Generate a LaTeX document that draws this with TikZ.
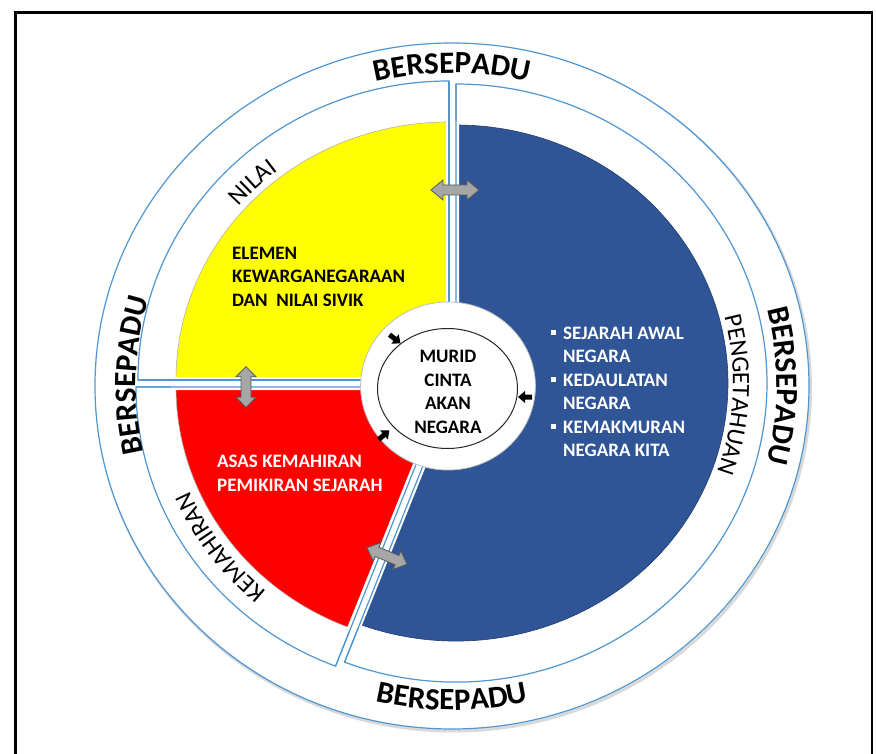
\documentclass[tikz,border=0pt]{standalone}
\usepackage{fontspec}
\setmainfont{Carlito}
\usetikzlibrary{decorations.text,calc}
\definecolor{ringblue}{RGB}{80,150,210}
\definecolor{secblue}{RGB}{47,85,151}
\definecolor{arrgray}{RGB}{166,166,166}
\definecolor{pureyellow}{RGB}{255,255,0}
\newcommand\bsfont{\bfseries\fontsize{31}{31}\selectfont}
\newcommand\lblfont{\fontsize{25}{25}\selectfont}
\newcommand\blsq{\makebox[12pt][l]{\rule[4pt]{5pt}{5pt}}}
\begin{document}
\begin{tikzpicture}[x=1pt,y=1pt,
  ringline/.style={draw=ringblue, line width=1.2pt},
  body/.style={font=\bfseries\fontsize{19}{23.5}\selectfont, inner sep=0pt, align=left},
  curved/.style={decorate, decoration={text along path, text align=center, text={#1}}},
  dblarrow/.pic={\filldraw[fill=arrgray, draw=black!65, line width=0.8pt]
     (-24,0) -- (-12,10) -- (-12,5) -- (12,5) -- (12,10) -- (24,0) -- (12,-10) -- (12,-5) -- (-12,-5) -- (-12,-10) -- cycle;},
  blkarrow/.pic={\fill[black] (-7,-2.5) -- (0,-2.5) -- (0,-6) -- (7,0) -- (0,6) -- (0,2.5) -- (-7,2.5) -- cycle;}
]
\useasboundingbox (0,0) rectangle (876,-754);
\clip (0,0) rectangle (876,-754);
\fill[white] (0,0) rectangle (876,-754);
\draw[black, line width=2.5pt] (15.5,-12.5) rectangle (872,-790);

\coordinate (O) at (452,-386);
\coordinate (Y) at (449,-380);
\coordinate (R) at (447,-387);
\coordinate (B) at (456,-383);
\coordinate (C) at (448,-386);
\coordinate (E) at (447.5,-388.5);

% outer ring
\draw[black!15, line width=3pt] ($(O)+(1.5,-2)$) ellipse[x radius=357, y radius=343];
\draw[ringline, fill=white] (O) ellipse[x radius=357, y radius=343];

% pieces (white ring parts)
\path[ringline, fill=white] (Y) -- ++(90:311 and 299) arc[start angle=90, end angle=180, x radius=311, y radius=299] -- cycle;
\path[ringline, fill=white] (R) -- ++(180:311 and 299) arc[start angle=180, end angle=249, x radius=311, y radius=299] -- cycle;
\path[ringline, fill=white] (B) -- ++(249:311 and 299) arc[start angle=249, end angle=450, x radius=311, y radius=299] -- cycle;

% coloured sectors
\filldraw[fill=pureyellow, draw=black!30, line width=0.6pt] (Y) -- ++(90:273 and 258) arc[start angle=90, end angle=180, x radius=273, y radius=258] -- cycle;
\filldraw[fill=red, draw=black!30, line width=0.6pt] (R) -- ++(180:271 and 258) arc[start angle=180, end angle=249, x radius=271, y radius=258] -- cycle;
\filldraw[fill=secblue, draw=secblue!70!black, line width=0.6pt] (B) -- ++(249:272 and 258) arc[start angle=249, end angle=450, x radius=272, y radius=258] -- cycle;

% white strips along the gaps
\draw[white, line width=6pt] ($(Y)+(90:272 and 262)$) -- (Y) -- ($(Y)+(180:276 and 262)$);
\draw[white, line width=6pt] ($(R)+(180:276 and 262)$) -- (R) -- ($(R)+(249:274 and 262)$);
\draw[white, line width=6pt] ($(B)+(249:274 and 262)$) -- (B) -- ($(B)+(90:272 and 262)$);
\draw[ringline] ($(Y)+(90:311 and 299)$) -- (Y) -- ($(Y)+(180:311 and 299)$);
\draw[ringline] ($(R)+(180:311 and 299)$) -- (R) -- ($(R)+(249:311 and 299)$);
\draw[ringline] ($(B)+(249:311 and 299)$) -- (B) -- ($(B)+(90:311 and 299)$);

% centre
\filldraw[fill=white, draw=black!25, line width=0.8pt] (C) ellipse[x radius=87.4, y radius=84];
\draw[black!85, line width=1pt] (E) ellipse[x radius=70, y radius=60];

% curved labels
\path[curved={|\bsfont|BERSEPADU}] ($(O)+(125:326 and 313)$) arc[start angle=125, end angle=55, x radius=326, y radius=313];
\path[curved={|\bsfont|BERSEPADU}] ($(O)+(35:325 and 312)$) arc[start angle=35, end angle=-35, x radius=325, y radius=312];
\path[curved={|\bsfont|BERSEPADU}] ($(O)+(213:316 and 304)$) arc[start angle=213, end angle=143, x radius=316, y radius=304];
\path[curved={|\bsfont|BERSEPADU}] ($(O)+(235:337 and 324)$) arc[start angle=235, end angle=305, x radius=337, y radius=324];

\path[curved={|\lblfont|NILAI}] ($(Y)+(160:277 and 266)$) arc[start angle=160, end angle=108, x radius=277, y radius=266];
\path[curved={|\lblfont|PENGETAHUAN}] ($(B)+(32:277 and 266)$) arc[start angle=32, end angle=-37, x radius=277, y radius=266];
\path[curved={|\lblfont|KEMAHIRAN}] ($(R)+(246:279 and 268)$) arc[start angle=246, end angle=186, x radius=279, y radius=268];

% texts
\node[body, align=center] (murid) at (448,-392) {MURID\\CINTA\\AKAN\\NEGARA};
\node[body, anchor=west] (elemen) at (232,-276.5) {ELEMEN\\KEWARGANEGARAAN\\DAN\ \ NILAI SIVIK};
\node[body, anchor=west, text=white] (asas) at (217,-473.5) {ASAS KEMAHIRAN\\PEMIKIRAN SEJARAH};
\node[body, anchor=west, text=white] (list) at (551,-392) {\blsq SEJARAH AWAL\\\hspace*{12pt}NEGARA\\\blsq KEDAULATAN\\\hspace*{12pt}NEGARA\\\blsq KEMAKMURAN\\\hspace*{12pt}NEGARA KITA};

% arrows
\pic at (455,-190) {dblarrow};
\pic[rotate=90, xscale=0.85] at (246,-387) {dblarrow};
\pic[rotate=-22.5, xscale=0.9] at (387,-556) {dblarrow};
\pic[rotate=-38] at (395,-339) {blkarrow};
\pic[rotate=180] at (525,-397) {blkarrow};
\pic[rotate=40] at (384,-435) {blkarrow};
\end{tikzpicture}
\end{document}
